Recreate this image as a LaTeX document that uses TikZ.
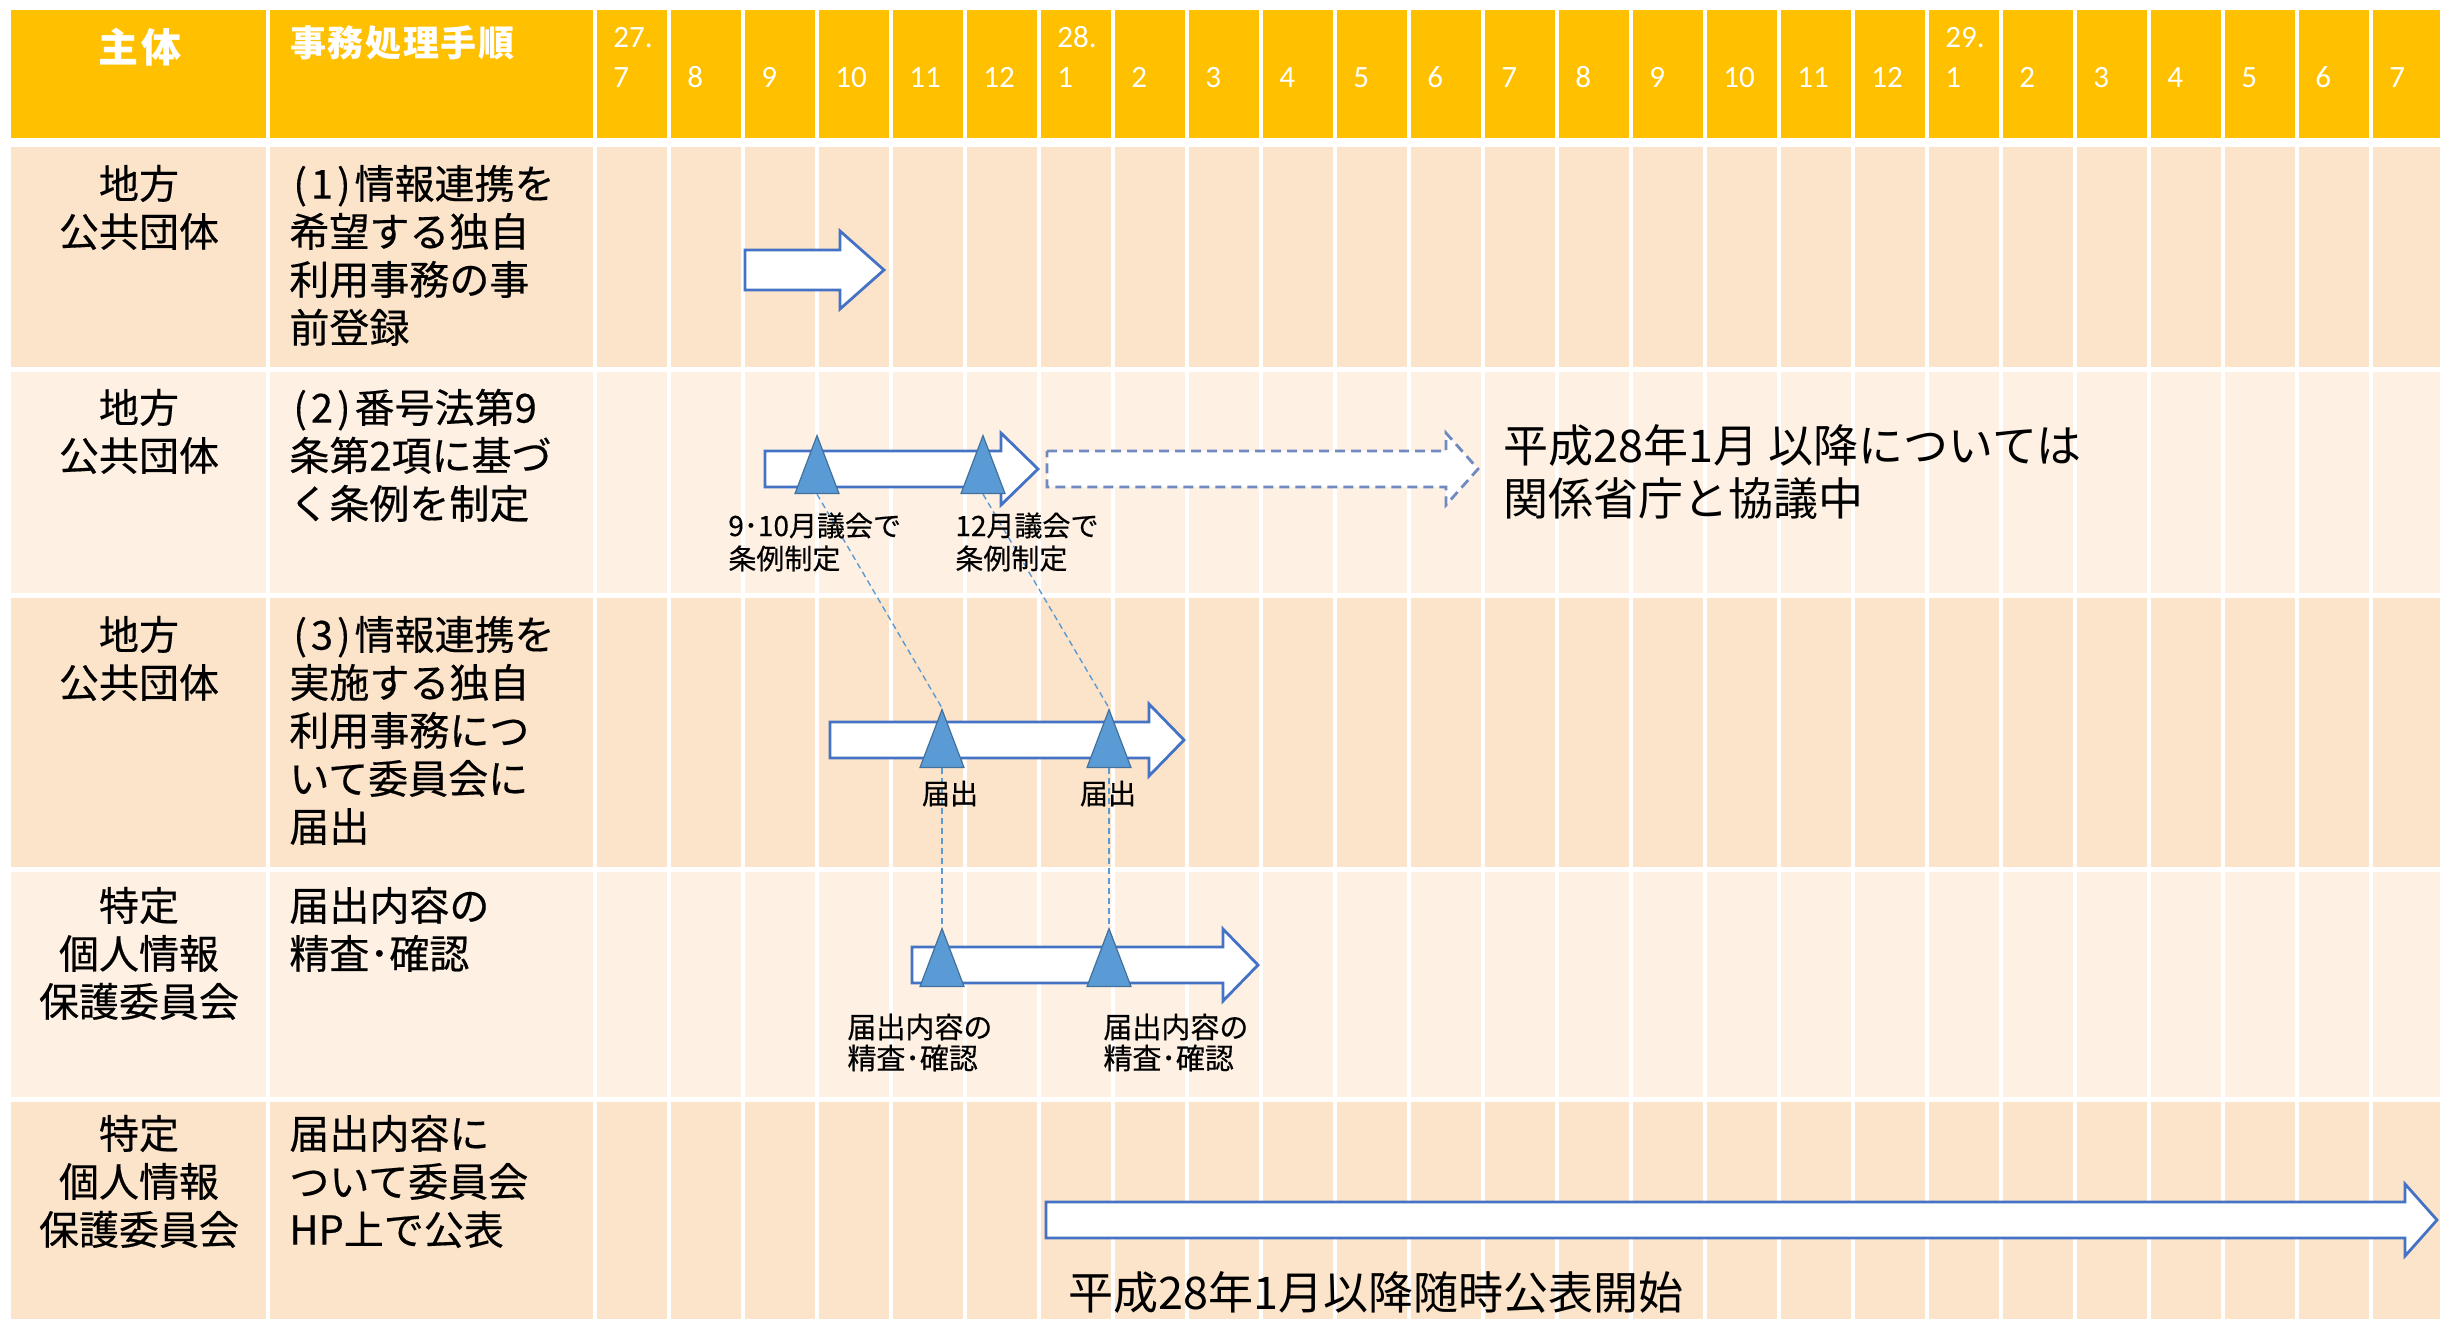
\documentclass[tikz,border=0pt]{standalone}
\usepackage{fontspec}
\setmainfont{Noto Sans CJK JP}
\newfontfamily\medfont{Noto Sans CJK JP}[FakeBold=0.4]
\newfontfamily\numfont{Carlito}
\usetikzlibrary{shapes.geometric}
\definecolor{hdr}{HTML}{FFC000}
\definecolor{rowdark}{HTML}{FCE4CA}
\definecolor{rowlight}{HTML}{FEF1E4}
\definecolor{arrowblue}{HTML}{4472C4}
\definecolor{dashblue}{HTML}{6F8AC0}
\definecolor{trifill}{HTML}{5B9BD5}
\definecolor{triedge}{HTML}{41719C}
\definecolor{linkblue}{HTML}{5B9BD5}
\newcommand\mystrut{\rule{0pt}{0.88em}}
\newcommand\pk{\kern2pt}
\begin{document}
\begin{tikzpicture}[x=0.5pt,y=-0.5pt,
  barrow/.style={draw=arrowblue,line width=1.4pt,fill=white,line join=miter},
  dbarrow/.style={draw=dashblue,line width=1.4pt,fill=white,dash pattern=on 5pt off 3pt},
  tri/.style={isosceles triangle,isosceles triangle stretches,shape border rotate=90,
    minimum width=22pt,minimum height=29pt,inner sep=0pt,fill=trifill,draw=triedge,line width=0.6pt},
  link/.style={draw=linkblue,line width=0.7pt,dash pattern=on 3pt off 2pt},
  body/.style={inner sep=0pt,font=\medfont\fontsize{20pt}{24pt}\selectfont,text=black},
  subj/.style={body,align=center,anchor=north},
  proc/.style={body,align=left,anchor=north west},
  mon/.style={inner sep=0pt,anchor=base west,text=white,font=\numfont\fontsize{15.5pt}{15.5pt}\selectfont},
  lab/.style={inner sep=0pt,font=\medfont\fontsize{14pt}{16.5pt}\selectfont,align=left,anchor=north west},
  labb/.style={inner sep=0pt,font=\medfont\fontsize{14.5pt}{15.5pt}\selectfont,align=left,anchor=north west},
  big/.style={inner sep=0pt,font=\fontsize{22.5pt}{26.5pt}\selectfont,align=left,anchor=north west}
]
\useasboundingbox (0,0) rectangle (2440,1318);
\fill[white] (0,0) rectangle (2440,1318);
% header cells
\fill[hdr] (11,10) rectangle (266,138);
\fill[hdr] (270,10) rectangle (593,138);
\foreach \m in {0,...,24} \fill[hdr] ({597+74*\m},10) rectangle ({667+74*\m},138);
% body cells
\foreach \ya/\yb/\rc in {147/367/rowdark,372/593/rowlight,598/867/rowdark,872/1097/rowlight,1102/1330/rowdark}{
  \fill[\rc] (11,\ya) rectangle (266,\yb);
  \fill[\rc] (270,\ya) rectangle (593,\yb);
  \foreach \m in {0,...,24} \fill[\rc] ({597+74*\m},\ya) rectangle ({667+74*\m},\yb);
}
% header texts
\node[anchor=base,inner sep=0pt,text=white,font=\bfseries\fontsize{20pt}{20pt}\selectfont] (hsubj) at (140,62) {主\kern1.5pt 体};
\node[anchor=base west,inner sep=0pt,text=white,font=\bfseries\fontsize{18pt}{18pt}\selectfont] (hproc) at (290,56) {事\kern0.8pt 務\kern0.8pt 処\kern0.8pt 理\kern0.8pt 手\kern0.8pt 順};
\foreach \lab [count=\i from 0] in {7,8,9,10,11,12,1,2,3,4,5,6,7,8,9,10,11,12,1,2,3,4,5,6,7}
  \node[mon] (m\i) at ({613+74*\i},87) {\lab};
\node[mon] (y27) at (613,47) {27.};
\node[mon] (y28) at (1057,47) {28.};
\node[mon] (y29) at (1945,47) {29.};
% row texts
\node[subj] (s1) at (139,163) {\mystrut 地方\\公共団体};
\node[proc] (p1) at (289,163) {\mystrut\pk(\pk 1\pk)\pk 情報連携を\\希望する独自\\利用事務の事\\前登録};
\node[subj] (s2) at (139,387) {\mystrut 地方\\公共団体};
\node[proc] (p2) at (289,387) {\mystrut\pk(\pk 2\pk)\pk 番号法第9\\条第2項に基づ\\く条例を制定};
\node[subj] (s3) at (139,614) {\mystrut 地方\\公共団体};
\node[proc] (p3) at (289,614) {\mystrut\pk(\pk 3\pk)\pk 情報連携を\\実施する独自\\利用事務につ\\いて委員会に\\届出};
\node[subj] (s4) at (139,885) {\mystrut 特定\\個人情報\\保護委員会};
\node[proc] (p4) at (289,885) {\mystrut 届出内容の\\精査･確認};
\node[subj] (s5) at (139,1113) {\mystrut 特定\\個人情報\\保護委員会};
\node[proc] (p5) at (289,1113) {\mystrut 届出内容に\\ついて委員会\\HP上で公表};
% block arrows
\draw[barrow] (745,250) -- (840,250) -- (840,231) -- (884,270) -- (840,309) -- (840,290) -- (745,290) -- cycle;
\draw[barrow] (765,451) -- (1001,451) -- (1001,433) -- (1038,469) -- (1001,505) -- (1001,487) -- (765,487) -- cycle;
\draw[dbarrow] (1047,451) -- (1446,451) -- (1446,433) -- (1478,469) -- (1446,505) -- (1446,487) -- (1047,487) -- cycle;
\draw[barrow] (830,722) -- (1149,722) -- (1149,704) -- (1184,740) -- (1149,776) -- (1149,758) -- (830,758) -- cycle;
\draw[barrow] (912,947) -- (1223,947) -- (1223,929) -- (1258,965) -- (1223,1001) -- (1223,983) -- (912,983) -- cycle;
\draw[barrow] (1046,1202) -- (2405,1202) -- (2405,1184) -- (2437,1220) -- (2405,1256) -- (2405,1238) -- (1046,1238) -- cycle;
% milestone triangles
\node[tri,anchor=apex] (t21) at (817,434) {};
\node[tri,anchor=apex] (t22) at (983,434) {};
\node[tri,anchor=apex] (t31) at (942,708) {};
\node[tri,anchor=apex] (t32) at (1109,708) {};
\node[tri,anchor=apex] (t41) at (942,927) {};
\node[tri,anchor=apex] (t42) at (1109,927) {};
% dashed links
\draw[link] (t21.lower side) -- (t31.apex);
\draw[link] (t22.lower side) -- (t32.apex);
\draw[link] (t31.lower side) -- (t41.apex);
\draw[link] (t32.lower side) -- (t42.apex);
% labels
\node[lab] (l21) at (728,511) {\mystrut 9･10月議会で\\条例制定};
\node[lab] (l22) at (955,511) {\mystrut 12月議会で\\条例制定};
\node[lab,anchor=north,align=center] (l31) at (950,779) {\mystrut 届出};
\node[lab,anchor=north,align=center] (l32) at (1108,779) {\mystrut 届出};
\node[labb] (l41) at (847,1012) {\mystrut 届出内容の\\精査･確認};
\node[labb] (l42) at (1103,1012) {\mystrut 届出内容の\\精査･確認};
\node[big] (n2) at (1503,422) {\mystrut 平成28年1月 以降については\\関係省庁と協議中};
\node[big] (n5) at (1068,1269) {\mystrut 平成28年1月以降随時公表開始};
\end{tikzpicture}
\end{document}
